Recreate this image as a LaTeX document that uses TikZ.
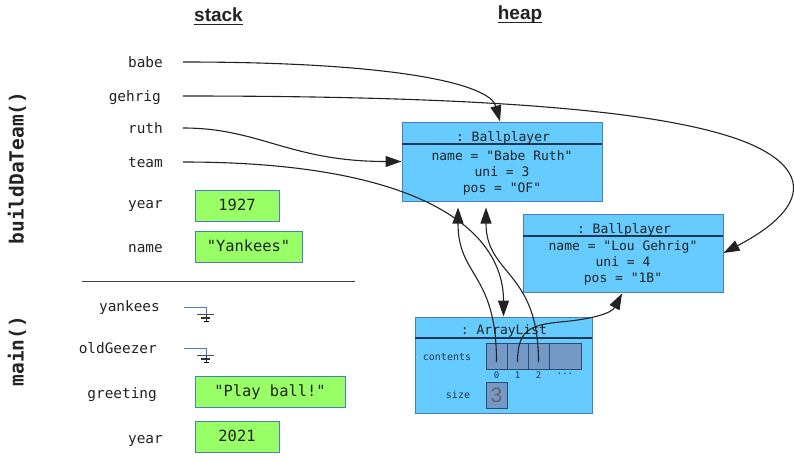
\documentclass[tikz,border=0pt]{standalone}
\usepackage{fontspec}
\setmainfont{Liberation Sans}
\setsansfont{Liberation Sans}
\setmonofont{DejaVu Sans Mono}
\usetikzlibrary{arrows.meta,calc}
\definecolor{objfill}{HTML}{66CCFF}
\definecolor{objline}{HTML}{4A7EBB}
\definecolor{sepline}{HTML}{1F3550}
\definecolor{valfill}{HTML}{99FF66}
\definecolor{cellfill}{HTML}{7399C6}
\definecolor{cellline}{HTML}{2E4A6B}
\definecolor{conn}{HTML}{222222}
\definecolor{txt}{HTML}{222222}
\begin{document}
\begin{tikzpicture}[x=1pt,y=-1pt,
  lbl/.style={font=\ttfamily\fontsize{14.4}{16}\selectfont, anchor=east, inner sep=0pt, text height=10.5pt, text depth=3pt, text=txt, yshift=-1.5pt},
  val/.style={draw=objline, fill=valfill, line width=1pt, font=\ttfamily\fontsize{15.4}{17}\selectfont, minimum height=31pt, inner sep=0pt, text height=12pt, text depth=1.5pt, text=txt},
  obj/.style={draw=objline, fill=objfill, line width=1pt, inner sep=0pt},
  ftxt/.style={font=\ttfamily\fontsize{13}{15}\selectfont, inner sep=0pt, text height=10pt, text depth=3pt, text=txt, yshift=-1.5pt},
  small/.style={font=\ttfamily\fontsize{10}{12}\selectfont, inner sep=0pt, text=sepline},
  cell/.style={draw=cellline, fill=cellfill, line width=0.9pt, inner sep=0pt, minimum height=26pt},
  seprule/.style={draw=sepline, line width=1.1pt},
  ref/.style={draw=conn, line width=1.1pt, -{Triangle[length=16pt,width=11pt]}},
  ttl/.style={font=\sffamily\bfseries\fontsize{19}{22}\selectfont, inner sep=0pt, text=txt},
  frame/.style={font=\ttfamily\bfseries\fontsize{19.5}{22}\selectfont, rotate=90, inner sep=0pt, text=txt},
  nullline/.style={draw=objline, line width=1pt},
  groundline/.style={draw=black!70, line width=1.2pt}
]
\useasboundingbox (0,0) rectangle (794,460);

% titles
\node[ttl] (stackT) at (218.5,15) {stack};
\draw[line width=1.3pt, txt] ([yshift=-2.5pt]stackT.base west) -- ([yshift=-2.5pt]stackT.base east);
\node[ttl] (heapT) at (520,15) {heap};
\draw[line width=1.3pt, txt] ([yshift=-2.5pt]heapT.base west) -- ([yshift=-2.5pt]heapT.base east);

% frame names
\node[frame] (fBuild) at (17,168) {buildDaTeam()};
\node[frame] (fMain) at (17,351) {main()};

% frame separator
\draw[line width=1pt, black!75] (82,281) -- (355,281);

% stack labels
\node[lbl] (lBabe) at (163,62) {babe};
\node[lbl] (lGehrig) at (161,96) {gehrig};
\node[lbl] (lRuth) at (163,128) {ruth};
\node[lbl] (lTeam) at (163,162) {team};
\node[lbl] (lYear1) at (163,203) {year};
\node[lbl] (lName) at (163,247) {name};
\node[lbl] (lYankees) at (160,306) {yankees};
\node[lbl] (lOld) at (157,348) {oldGeezer};
\node[lbl] (lGreet) at (157,393) {greeting};
\node[lbl] (lYear2) at (163,438) {year};

% value boxes
\node[val, minimum width=84pt] (v1927) at (237,205.5) {1927};
\node[val, minimum width=107pt] (vYank) at (248.5,246.5) {"Yankees"};
\node[val, minimum width=150pt] (vGreet) at (270,391.5) {"Play ball!"};
\node[val, minimum width=84pt] (v2021) at (237,436.5) {2021};

% null references
\foreach \yy/\nm in {307/nY,348/nO}{
  \coordinate (\nm) at (184,\yy);
  \draw[nullline] (\nm) -- ++(22,0) -- ++(0,8);
  \draw[draw=sepline, line width=1pt] ($(\nm)+(22,8)$) -- ++(0,7);
  \draw[groundline] ($(\nm)+(13,7.5)$) -- ++(17,0);
  \draw[draw=black!80, line width=1.1pt] ($(\nm)+(17,11)$) -- ++(9,0);
  \draw[draw=black, line width=1.1pt] ($(\nm)+(19.5,14.5)$) -- ++(5,0);
}

% heap objects
\node[obj, minimum width=200pt, minimum height=79pt] (bp1) at (502,161.5) {};
\draw[seprule] (402,144) -- (602,144);
\node[ftxt] (bp1t) at (503,136) {: Ballplayer};
\node[ftxt] (bp1a) at (502,155) {name = "Babe Ruth"};
\node[ftxt] (bp1b) at (502,171) {uni = 3};
\node[ftxt] (bp1c) at (502,187) {pos = "OF"};

\node[obj, minimum width=200pt, minimum height=78pt] (bp2) at (623,253) {};
\draw[seprule] (523,236) -- (723,236);
\node[ftxt] (bp2t) at (624,228) {: Ballplayer};
\node[ftxt] (bp2a) at (623,245) {name = "Lou Gehrig"};
\node[ftxt] (bp2b) at (623,261) {uni = 4};
\node[ftxt] (bp2c) at (623,277) {pos = "1B"};

\node[obj, minimum width=177pt, minimum height=96pt] (al) at (503.5,365) {};
\draw[seprule] (415,338) -- (592,338);
\node[ftxt] (alt) at (504,329.5) {: ArrayList};
\node[small] (lCont) at (447,357) {contents};
\node[small] (lSize) at (458,395) {size};
\node[cell, minimum width=21pt] (c0) at (496.5,356) {};
\node[cell, minimum width=21pt] (c1) at (517.5,356) {};
\node[cell, minimum width=21pt] (c2) at (538.5,356) {};
\node[cell, minimum width=32pt] (c3) at (565,356) {};
\node[small, font=\ttfamily\fontsize{9}{10}\selectfont] (i0) at (496.5,375) {0};
\node[small, font=\ttfamily\fontsize{9}{10}\selectfont] (i1) at (517.5,375) {1};
\node[small, font=\ttfamily\fontsize{9}{10}\selectfont] (i2) at (538.5,375) {2};
\node[small, font=\ttfamily\fontsize{9}{10}\selectfont] (i3) at (565,374) {...};
\node[cell, minimum width=21pt, text=black!60, font=\sffamily\fontsize{21}{22}\selectfont] (sz) at (496.5,395) {3};

% references
\coordinate (sBabe) at (183,62);
\coordinate (sGehrig) at (183,96);
\coordinate (sRuth) at (183,128);
\coordinate (sTeam) at (183,162);
\coordinate (gMid) at (740,140);
\coordinate (c1Mid) at (560,322);

\draw[ref] (sBabe) .. controls +(217,0) and +(-10,-37) .. ([xshift=-2pt]bp1.north);
\draw[ref] (sGehrig) .. controls +(267,0) and +(-90,-33) .. (gMid)
   .. controls +(68,25) and +(92,-48) .. (bp2.east);
\draw[ref] (sRuth) .. controls +(77,0) and +(-112,0) .. (bp1.west);
\draw[ref] (sTeam) .. controls +(237,0) and +(0,-87) .. (al.north);
\draw[ref] ($(c0.center)+(0,6)$) .. controls +(0,-90) and +(0,70) .. ($(bp1.south)+(-44,6)$);
\draw[ref] ($(c2.center)+(0,6)$) .. controls +(0,-92) and +(0,68) .. ($(bp1.south)+(-16,6)$);
\draw[ref] ($(c1.center)+(0,6)$) .. controls +(0,-32) and +(-30,3) .. (c1Mid)
   .. controls +(35,-3) and +(-10,19) .. ($(bp2.south)+(-1,1)$);
\end{tikzpicture}
\end{document}
